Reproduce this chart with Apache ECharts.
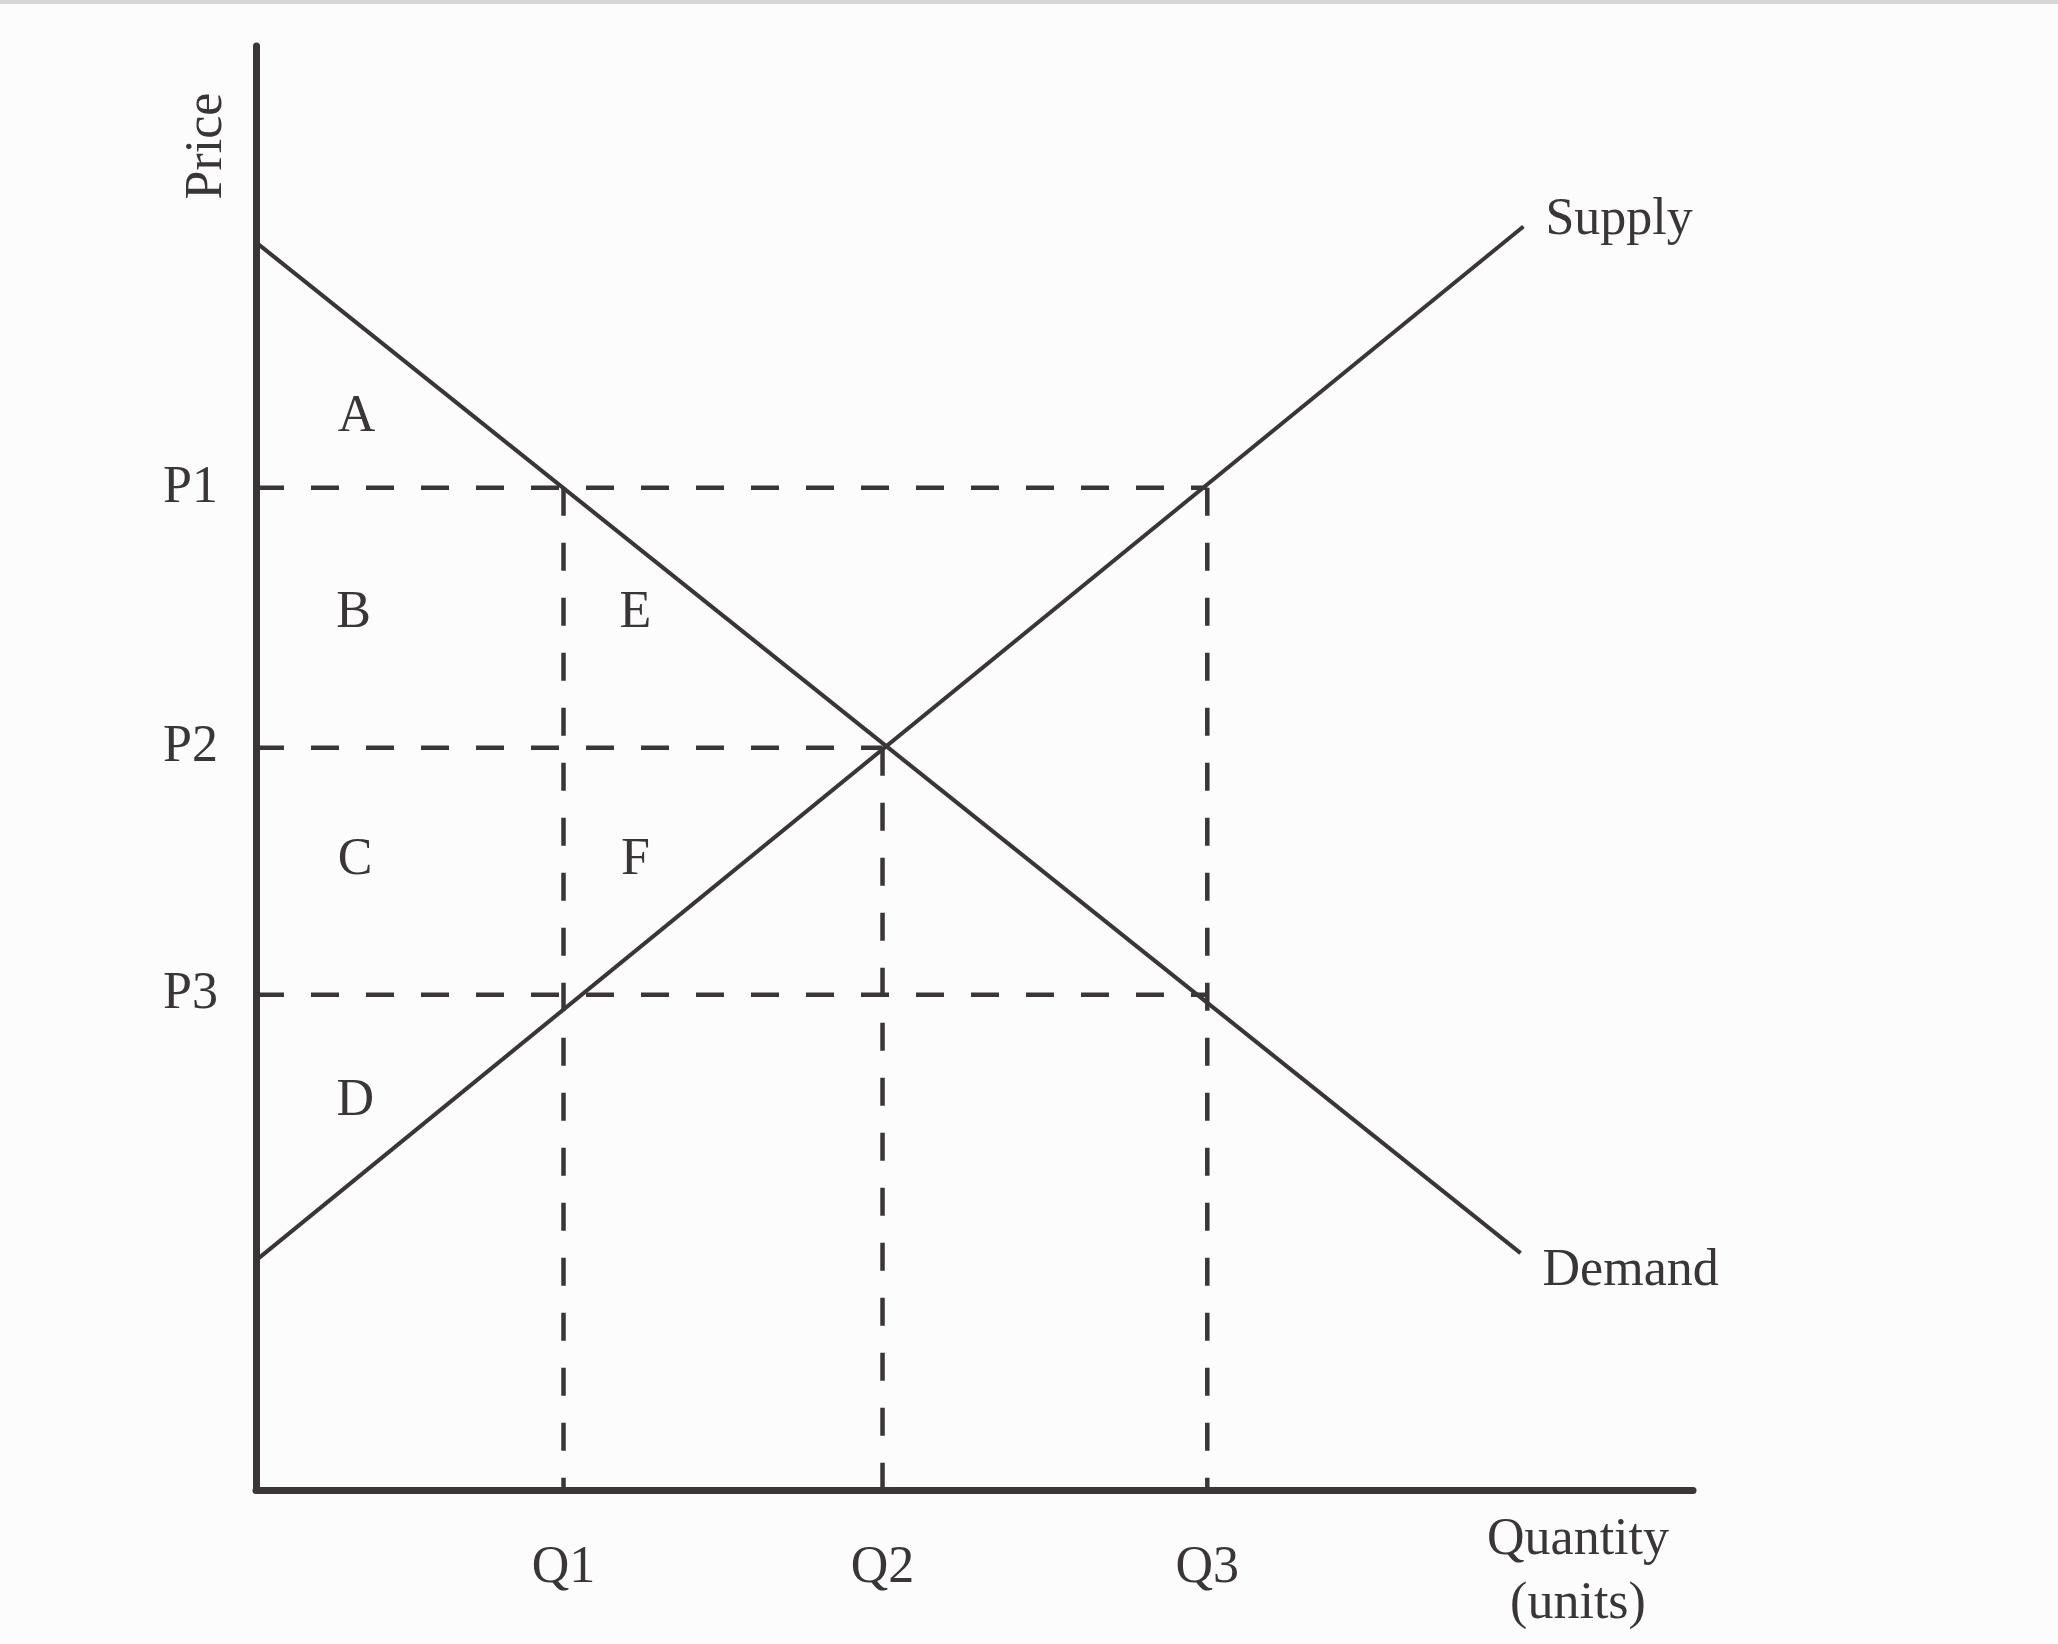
<!DOCTYPE html>
<html><head><meta charset="utf-8">
<script src="https://cdn.jsdelivr.net/npm/echarts@6/dist/echarts.min.js"></script>
<style>html,body{margin:0;padding:0;background:#fcfcfd}#c{width:2058px;height:1644px}</style>
</head><body><div id="c"></div>
<script>
const quantityLabels = ['Q1', 'Q2', 'Q3'];
const quantityValues = [21.4, 43.6, 66.2];
const priceLabels = ['P1', 'P2', 'P3'];
const priceValues = [69.4, 51.4, 34.3];
const demandPoints = [[0, 86.4], [88.0, 16.4]];
const supplyPoints = [[0, 15.9], [88.2, 87.5]];
const areaLabels = ['A', 'B', 'C', 'D', 'E', 'F'];
const areaX = [7.0, 6.8, 6.9, 6.9, 26.4, 26.4];
const areaY = [74.3, 60.7, 43.6, 26.9, 60.7, 43.6];
const priceGuideEnd = [2, 1, 2];    // horizontal guide runs to this quantity
const quantityGuideEnd = [0, 1, 0]; // vertical guide runs down from this price

const ink = '#3a3536';
const font = 'Liberation Serif';
const fs = 52;
const dash = [28, 27];

const series = [];
priceValues.forEach((p, i) => {
  series.push({type: 'line', symbol: 'none', silent: true,
    data: [[0, p], [quantityValues[priceGuideEnd[i]], p]],
    lineStyle: {color: ink, width: 4.5, type: dash}});
});
quantityValues.forEach((q, i) => {
  series.push({type: 'line', symbol: 'none', silent: true,
    data: [[q, priceValues[quantityGuideEnd[i]]], [q, 0]],
    lineStyle: {color: ink, width: 4.5, type: dash}});
});
series.push({type: 'line', name: 'Demand', symbol: 'none', data: demandPoints,
  lineStyle: {color: ink, width: 4},
  endLabel: {show: true, formatter: 'Demand', color: ink, fontFamily: font, fontSize: fs, offset: [14, 18]}});
series.push({type: 'line', name: 'Supply', symbol: 'none', data: supplyPoints,
  lineStyle: {color: ink, width: 4},
  endLabel: {show: true, formatter: 'Supply', color: ink, fontFamily: font, fontSize: fs, offset: [14, -6]}});
const lbl = {show: true, formatter: '{b}', color: ink, opacity: 1, fontFamily: font, fontSize: fs};
series.push({type: 'scatter', symbolSize: 0, silent: true, itemStyle: {opacity: 1},
  data: priceValues.map((p, i) => ({value: [0, p], name: priceLabels[i]})),
  label: Object.assign({position: 'left', distance: 38}, lbl)});
series.push({type: 'scatter', symbolSize: 0, silent: true, itemStyle: {opacity: 1},
  data: quantityValues.map((q, i) => ({value: [q, 0], name: quantityLabels[i]})),
  label: Object.assign({position: 'bottom', distance: 52}, lbl)});
series.push({type: 'scatter', symbolSize: 0, silent: true, itemStyle: {opacity: 1},
  data: areaLabels.map((a, i) => ({value: [areaX[i], areaY[i]], name: a})),
  label: Object.assign({position: 'inside'}, lbl)});

const chart = echarts.init(document.getElementById('c'), null, {renderer: 'canvas'});
chart.setOption({
  backgroundColor: '#fcfcfd',
  animation: false,
  grid: {left: 256, top: 46, width: 1437, height: 1444},
  xAxis: {type: 'value', min: 0, max: 100, splitLine: {show: false},
    axisLine: {show: true, onZero: false, lineStyle: {color: ink, width: 7}},
    axisTick: {show: false}, axisLabel: {show: false}},
  yAxis: {type: 'value', min: 0, max: 100, splitLine: {show: false},
    axisLine: {show: true, onZero: false, lineStyle: {color: ink, width: 7}},
    axisTick: {show: false}, axisLabel: {show: false}},
  graphic: [
    {type: 'rect', left: 0, top: 0, shape: {width: 2058, height: 4}, style: {fill: '#d6d6d6'}},
    {type: 'text', x: 207, y: 146, rotation: Math.PI / 2,
      style: {text: 'Price', fill: ink, font: fs + 'px "' + font + '"', align: 'center', verticalAlign: 'middle'}},
    {type: 'text', x: 1578, y: 1572,
      style: {text: 'Quantity\n(units)', fill: ink, font: fs + 'px "' + font + '"', lineHeight: 64, align: 'center', verticalAlign: 'middle'}}
  ],
  series: series
});
</script></body></html>
